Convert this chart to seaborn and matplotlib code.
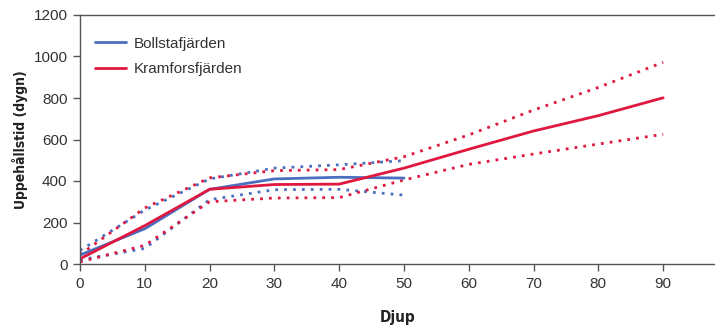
import matplotlib
matplotlib.use('Agg')
import matplotlib.pyplot as plt
import seaborn as sns
import pandas as pd

# Data
depth_b = [0, 10, 20, 30, 40, 50]
boll_mean = [43, 170, 360, 410, 418, 414]
boll_upper = [65, 260, 410, 462, 478, 498]
boll_lower = [20, 75, 310, 358, 360, 332]

depth_k = [0, 10, 20, 30, 40, 50, 60, 70, 80, 90]
kram_mean = [25, 185, 360, 383, 385, 462, 553, 641, 715, 801]
kram_upper = [45, 270, 415, 450, 455, 517, 622, 742, 851, 972]
kram_lower = [10, 90, 300, 318, 320, 405, 480, 530, 578, 625]

BLUE = '#4a6fc0'
RED = '#e0173f'

sns.set_theme(style='ticks')
plt.rcParams['font.family'] = ['Liberation Sans', 'DejaVu Sans']

fig = plt.figure(figsize=(7.15, 3.31), dpi=100)
ax = fig.add_axes([80 / 715, 1 - 264 / 331, 1 - 80 / 715, (264 - 15) / 331])

df_b = pd.DataFrame({'Djup': depth_b, 'mean': boll_mean, 'upper': boll_upper, 'lower': boll_lower})
df_k = pd.DataFrame({'Djup': depth_k, 'mean': kram_mean, 'upper': kram_upper, 'lower': kram_lower})

for df, col in [(df_b, BLUE), (df_k, RED)]:
    for c in ['upper', 'lower']:
        sns.lineplot(data=df, x='Djup', y=c, ax=ax, color=col, lw=2.0,
                     linestyle=(0, (1, 2.2)), legend=False)

sns.lineplot(data=df_b, x='Djup', y='mean', ax=ax, color=BLUE, lw=2.0, label='Bollstafjärden')
sns.lineplot(data=df_k, x='Djup', y='mean', ax=ax, color=RED, lw=2.0, label='Kramforsfjärden')

ax.set_xlim(0, 98)
ax.set_ylim(0, 1200)
ax.set_xticks(range(0, 100, 10))
ax.set_yticks(range(0, 1201, 200))

for s in ['left', 'bottom', 'top']:
    ax.spines[s].set_color('#555555')
    ax.spines[s].set_linewidth(1.0)
ax.spines['right'].set_visible(False)
ax.tick_params(axis='both', colors='#555555', length=5, width=1.0,
               labelsize=11, labelcolor='#333333', pad=4)

label_font = dict(fontweight='bold', color='#222222',
                  family='DejaVu Sans', fontstretch='condensed')
ax.set_xlabel('Djup', labelpad=14, fontsize=11, **label_font)
ax.set_ylabel('Uppehållstid (dygn)', labelpad=4, fontsize=10, **label_font)

leg = ax.legend(loc='upper left', bbox_to_anchor=(0.0, 0.975), frameon=False,
                fontsize=11, handlelength=2.0, handletextpad=0.5, labelspacing=0.75,
                borderaxespad=0.6)
for t in leg.get_texts():
    t.set_color('#333333')

fig.savefig('out.png', dpi=100)
